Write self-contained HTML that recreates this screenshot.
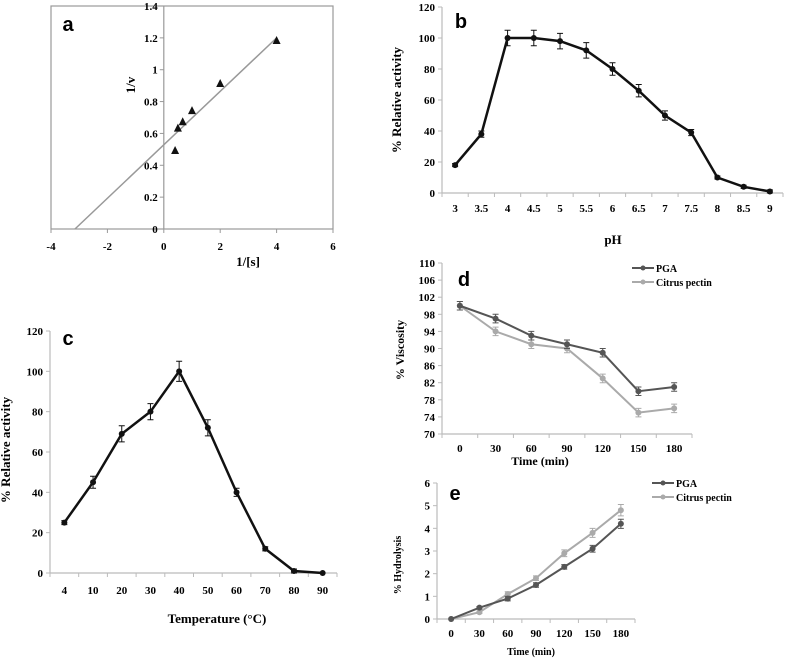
<!DOCTYPE html>
<html><head><meta charset="utf-8"><style>
body{margin:0;background:#fff}
svg{display:block;font-family:"Liberation Serif",serif;font-weight:bold}
.t{font-size:11px}
.l{font-family:"Liberation Sans",sans-serif;font-size:20px;font-weight:bold}
</style></head><body>
<svg id="fig" width="787" height="658"></svg>
<script>
// Panel a data
const aX=[0.4,0.5,0.67,1,2,4];
const aY=[0.49,0.63,0.67,0.74,0.91,1.18];
const aFitX=[-3.15,4];
const aFitY=[0,1.2];
const aXTicks=[-4,-2,0,2,4,6];
const aYTicks=[0,0.2,0.4,0.6,0.8,1,1.2,1.4];
// Panel b
const bCats=['3','3.5','4','4.5','5','5.5','6','6.5','7','7.5','8','8.5','9'];
const bVals=[18,38,100,100,98,92,80,66,50,39,10,4,1];
const bErr=[1,2,5,5,5,5,4,4,3,2,1,1,1];
const bYTicks=[0,20,40,60,80,100,120];
// Panel c
const cCats=['4','10','20','30','40','50','60','70','80','90'];
const cVals=[25,45,69,80,100,72,40,12,1,0];
const cErr=[1,3,4,4,5,4,2,1,1,0];
const cYTicks=[0,20,40,60,80,100,120];
// Panel d
const dCats=['0','30','60','90','120','150','180'];
const dPGA=[100,97,93,91,89,80,81];
const dCit=[100,94,91,90,83,75,76];
const dErr=[1,1,1,1,1,1,1];
const dYTicks=[70,74,78,82,86,90,94,98,102,106,110];
// Panel e
const eCats=['0','30','60','90','120','150','180'];
const ePGA=[0,0.5,0.9,1.5,2.3,3.1,4.2];
const eCit=[0,0.3,1.1,1.8,2.9,3.8,4.8];
const eErrP=[0,0.05,0.1,0.1,0.1,0.15,0.2];
const eErrC=[0,0.05,0.1,0.1,0.15,0.2,0.25];
const eYTicks=[0,1,2,3,4,5,6];

const svg=document.getElementById('fig');
const NS='http://www.w3.org/2000/svg';
function mk(tag,at,txt){const e=document.createElementNS(NS,tag);for(const k in at)e.setAttribute(k,at[k]);if(txt!==undefined)e.textContent=txt;svg.appendChild(e);return e;}
function txt(x,y,s,cls,anchor,rot,name){const at={x:x,y:y,class:cls,'text-anchor':anchor||'middle'};if(rot)at.transform='rotate(-90 '+x+' '+y+')';const e=mk('text',at,s);


return e;}

// ---- Panel a ----
(function(){
 const L=51,R=333,T=6,B=229;
 const sx=v=>L+(v+4)/10*(R-L), sy=v=>B-v/1.4*(B-T);
 const box=mk('rect',{x:L,y:T,width:R-L,height:B-T,fill:'none',stroke:'#999','stroke-width':1.2});
 
 
 const ya=mk('line',{x1:sx(0),x2:sx(0),y1:T,y2:B,stroke:'#999','stroke-width':1.2});
 
 
 aXTicks.forEach(v=>{mk('line',{x1:sx(v),x2:sx(v),y1:B,y2:B+4,stroke:'#999'});txt(sx(v),B+21,String(v),'t','middle',0,'panel-a-x-tick');});
 aYTicks.forEach(v=>{mk('line',{x1:sx(0)-4,x2:sx(0),y1:sy(v),y2:sy(v),stroke:'#999'});txt(sx(0)-6,sy(v)+4,String(v),'t','end',0,'panel-a-y-tick');});
 const fit=mk('line',{x1:sx(aFitX[0]),y1:sy(aFitY[0]),x2:sx(aFitX[1]),y2:sy(aFitY[1]),stroke:'#999','stroke-width':1.5});
 
 
 aX.forEach((v,i)=>{const x=sx(v),y=sy(aY[i]);const p=mk('polygon',{points:`${x},${y-5} ${x-4},${y+3} ${x+4},${y+3}`,fill:'#111'});
 
 });
 txt(248,266,'1/[s]','t','middle',0,'panel-a-x-title').setAttribute('style','font-size:13px');
 txt(135,85,'1/v','t','middle',1,'panel-a-y-title').setAttribute('style','font-size:13px');
 txt(68,31,'a','l','middle',0,'panel-a-label');
})();

function lineChart(o){
 const {L,R,T,B,min,max,cats,series,yTicks,p}=o;
 const n=cats.length,bw=(R-L)/n;
 const sx=i=>L+bw*(i+0.5), sy=v=>B-(v-min)/(max-min)*(B-T);
 const ax=mk('line',{x1:L,x2:L,y1:T,y2:B,stroke:'#bbb','stroke-width':1.2});
 
 
 const xx=mk('line',{x1:L,x2:R,y1:B,y2:B,stroke:'#bbb','stroke-width':1.2});
 
 
 for(let i=0;i<=n;i++)mk('line',{x1:L+bw*i,x2:L+bw*i,y1:B,y2:B+4,stroke:'#bbb'});
 cats.forEach((c,i)=>txt(sx(i),B+o.tickDy,c,'t','middle',0,p+'-x-tick'));
 yTicks.forEach(v=>{mk('line',{x1:L-4,x2:L,y1:sy(v),y2:sy(v),stroke:'#bbb'});txt(L-7,sy(v)+4,String(v),'t','end',0,p+'-y-tick');});
 series.forEach(s=>{
  const pts=s.vals.map((v,i)=>sx(i)+','+sy(v)).join(' ');
  const pl=mk('polyline',{points:pts,fill:'none',stroke:s.color,'stroke-width':s.w});
  
  
  s.vals.forEach((v,i)=>{const e=s.err[i],x=sx(i);
   if(e>0){mk('path',{d:`M${x},${sy(v+e)}V${sy(v-e)}M${x-3},${sy(v+e)}h6M${x-3},${sy(v-e)}h6`,stroke:s.color,'stroke-width':1,fill:'none'});}
   const c=mk('circle',{cx:x,cy:sy(v),r:3,fill:s.color});
   
   });
 });
}
lineChart({L:442,R:783,T:7,B:193,min:0,max:120,cats:bCats,yTicks:bYTicks,p:'panel-b',tickDy:19,
 series:[{vals:bVals,err:bErr,color:'#111',w:2.5,name:'panel-b-series'}]});
txt(613,244,'pH','t','middle',0,'panel-b-x-title').setAttribute('style','font-size:13px');
txt(401,100,'% Relative activity','t','middle',1,'panel-b-y-title').setAttribute('style','font-size:13px');
txt(461,28,'b','l','middle',0,'panel-b-label');

lineChart({L:50,R:337,T:331,B:573,min:0,max:120,cats:cCats,yTicks:cYTicks,p:'panel-c',tickDy:21,
 series:[{vals:cVals,err:cErr,color:'#111',w:2.5,name:'panel-c-series'}]});
txt(217,623,'Temperature (°C)','t','middle',0,'panel-c-x-title').setAttribute('style','font-size:13px');
txt(10,450,'% Relative activity','t','middle',1,'panel-c-y-title').setAttribute('style','font-size:13px');
txt(68,345,'c','l','middle',0,'panel-c-label');

lineChart({L:442,R:692,T:263,B:434,min:70,max:110,cats:dCats,yTicks:dYTicks,p:'panel-d',tickDy:18,
 series:[{vals:dCit,err:dErr,color:'#aaa',w:2,name:'panel-d-citrus-pectin'},{vals:dPGA,err:dErr,color:'#555',w:2,name:'panel-d-pga'}]});
txt(540,465,'Time  (min)','t','middle',0,'panel-d-x-title').setAttribute('style','font-size:12px');
txt(404,350,'% Viscosity','t','middle',1,'panel-d-y-title').setAttribute('style','font-size:12px');
txt(464,286,'d','l','middle',0,'panel-d-label');

lineChart({L:437,R:635,T:483,B:619,min:0,max:6,cats:eCats,yTicks:eYTicks,p:'panel-e',tickDy:18,
 series:[{vals:eCit,err:eErrC,color:'#aaa',w:2,name:'panel-e-citrus-pectin'},{vals:ePGA,err:eErrP,color:'#555',w:2,name:'panel-e-pga'}]});
txt(531,655,'Time (min)','t','middle',0,'panel-e-x-title').setAttribute('style','font-size:10px');
txt(401,565,'% Hydrolysis','t','middle',1,'panel-e-y-title').setAttribute('style','font-size:10px');
txt(455,500,'e','l','middle',0,'panel-e-label');

function legend(x,y,p){
 [['PGA','#555'],['Citrus pectin','#aaa']].forEach((d,i)=>{const yy=y+i*14;
  const ln=mk('line',{x1:x,x2:x+22,y1:yy,y2:yy,stroke:d[1],'stroke-width':2});
  
  
  mk('circle',{cx:x+11,cy:yy,r:2.5,fill:d[1]});
  txt(x+24,yy+4,d[0],'t','start',0,p+'-legend-entry').setAttribute('style','font-size:10px');});
}
legend(632,268,'panel-d');
legend(652,483,'panel-e');
</script>
</body></html>
